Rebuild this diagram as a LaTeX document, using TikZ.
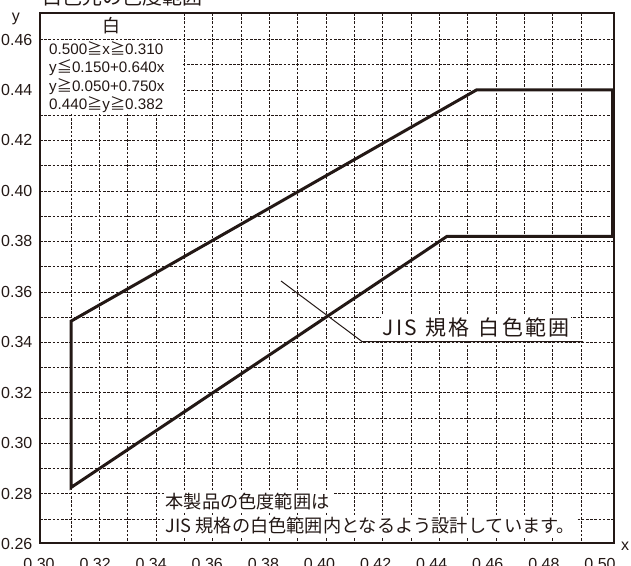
\documentclass[tikz,border=0pt]{standalone}
\usepackage{fontspec}
\setmainfont{Liberation Sans}
\newfontfamily\jp{Noto Sans CJK JP}
\newfontfamily\jpw[LetterSpace=10]{Noto Sans CJK JP}
\definecolor{ink}{HTML}{231815}
\begin{document}
\begin{tikzpicture}[x=1pt,y=-1pt,
  gridline/.style={draw=ink, line width=0.8pt, dash pattern=on 2.6pt off 1.6pt},
  region/.style={draw=ink, line width=3pt, line join=miter},
  frame/.style={draw=ink, line width=1.2pt},
  leader/.style={draw=ink, line width=1pt},
  axlab/.style={font=\fontsize{16}{16}\selectfont, text=ink, inner sep=0pt},
  cond/.style={font=\fontsize{15.2}{15.2}\selectfont, text=ink, inner sep=0pt, anchor=base west},
  note/.style={font=\jp\fontsize{18.2}{18.2}\selectfont, text=ink, fill=white, inner sep=2pt, anchor=west}]
\useasboundingbox (0,0) rectangle (631,565);
% grid
\foreach \i in {0,...,18} \draw[gridline] ({71+\i*28.33},13) -- ({71+\i*28.33},543);
\foreach \j in {0,...,19} \draw[gridline] (40,{39.5+\j*25.24}) -- (614,{39.5+\j*25.24});
% condition box
\fill[white] (41,13.7) rectangle (182.5,113.5);
\draw[gridline] (40,39.5) -- (614,39.5);
\node[font=\jp\fontsize{18}{18}\selectfont, text=ink, inner sep=0pt] (hdr) at (111.7,25.7) {白};
\node[cond] (c1) at (49,54.5) {0.500{\jp ≧}x{\jp ≧}0.310};
\node[cond] (c2) at (49,72.8) {y{\jp ≦}0.150+0.640x};
\node[cond] (c3) at (49,91.2) {y{\jp ≧}0.050+0.750x};
\node[cond] (c4) at (49,109.5) {0.440{\jp ≧}y{\jp ≧}0.382};
% white region
\coordinate (p1) at ({71+(0.31-0.31)*2833},{39.5+(0.46-0.3484)*2524});
\coordinate (p2) at ({71+(0.4531-0.31)*2833},{39.5+(0.46-0.44)*2524});
\coordinate (p3) at (612.5,{39.5+(0.46-0.44)*2524});
\coordinate (p4) at (612.5,{39.5+(0.46-0.382)*2524});
\coordinate (p5) at ({71+(0.4427-0.31)*2833},{39.5+(0.46-0.382)*2524});
\coordinate (p6) at ({71+(0.31-0.31)*2833},{39.5+(0.46-0.2825)*2524});
\draw[region] (p1) -- (p2) -- (p3) -- (p4) -- (p5) -- (p6) -- cycle;
% annotation
\node[font=\jpw\fontsize{21}{21}\selectfont, text=ink, fill=white, inner sep=2pt] (jis) at (476,327) {JIS\hspace{9pt}規格\hspace{9pt}白色範囲};
\coordinate (l0) at (281,281);
\coordinate (l1) at (362,341.5);
\coordinate (l2) at (583,341.5);
\draw[leader] (l0) -- (l1) -- (l2);
% note
\node[note] (n1) at (163.5,501.7) {本製品の色度範囲は};
\node[note] (n2) at (163.5,526) {JIS 規格の白色範囲内となるよう設計しています。};
% frame
\draw[frame] (40,13) rectangle (614,543);
% axis labels
\foreach \k/\t in {0/0.46,1/0.44,2/0.42,3/0.40,4/0.38,5/0.36,6/0.34,7/0.32,8/0.30,9/0.28,10/0.26}
  \node[axlab, anchor=east] (ylab\k) at (32.5,{39.5+\k*50.48}) {\t};
\foreach \k/\t in {0/0.30,1/0.32,2/0.34,3/0.36,4/0.38,5/0.40,6/0.42,7/0.44,8/0.46,9/0.48,10/0.50}
  \node[axlab, anchor=base] (xlab\k) at ({39+\k*56.1},569) {\t};
\node[axlab, anchor=base] (yname) at (16,21) {y};
\node[axlab, anchor=base] (xname) at (625,550) {x};
\node[font=\jp\fontsize{20}{20}\selectfont, text=ink, inner sep=0pt, anchor=base west] (title) at (42,4.8) {白色光の色度範囲};
\end{tikzpicture}
\end{document}
